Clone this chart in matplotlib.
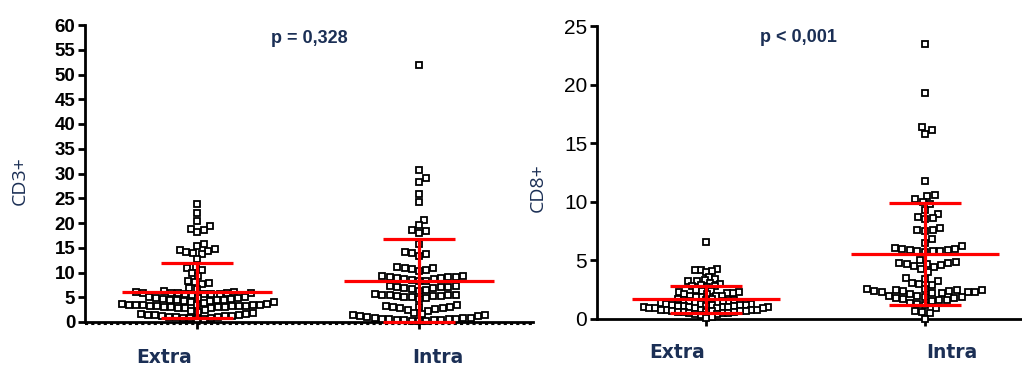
import numpy as np
import matplotlib
matplotlib.use("Agg")
import matplotlib.pyplot as plt
from matplotlib.transforms import ScaledTranslation

groups = ["Extra", "Intra"]

# CD3+ values (left panel)
cd3_extra = [23.8, 22.0, 20.5, 19.3, 18.8, 18.2, 18.5, 15.8, 15.3, 14.8, 14.6, 14.4, 14.2, 14.0,
             13.8, 12.8, 11.2, 11.0, 10.5, 10.0, 9.3, 8.2, 8.0, 7.6, 7.8,
             6.8, 6.6, 6.2, 6.0, 6.0, 5.9, 5.9, 5.8, 5.8, 5.8, 5.7, 5.7, 5.6, 5.6, 5.5,
             5.0, 5.0, 4.9, 4.8, 4.8, 4.7, 4.6, 4.5, 4.5, 4.4, 4.4, 4.3, 4.2, 4.0, 4.0, 3.9,
             3.6, 3.6, 3.5, 3.5, 3.5, 3.4, 3.4, 3.4, 3.3, 3.3, 3.3, 3.2, 3.2, 3.1, 3.1, 3.0,
             3.0, 2.9, 2.8, 2.8, 2.5, 2.3, 2.0, 1.8, 1.6, 1.6, 1.5, 1.5, 1.4, 1.3, 1.2, 1.2,
             1.1, 1.0, 1.0, 0.9, 0.8, 0.8, 0.7, 0.6]
cd3_intra = [52.0, 30.8, 29.0, 28.3, 25.8, 24.2, 20.6, 19.5, 18.6, 18.3, 18.0, 15.8, 14.2, 14.0,
             13.8, 13.3, 11.2, 11.0, 10.9, 10.8, 10.6, 10.3,
             9.3, 9.2, 9.1, 9.0, 9.0, 8.9, 8.8, 8.7, 8.6, 8.5, 8.3, 8.2,
             7.3, 7.2, 7.1, 7.0, 7.0, 6.9, 6.8, 6.6, 6.5, 6.3,
             5.6, 5.5, 5.5, 5.4, 5.4, 5.3, 5.3, 5.2, 5.1, 5.0, 4.8, 4.6,
             3.4, 3.2, 3.1, 3.0, 3.0, 2.9, 2.8, 2.6, 2.5, 2.3,
             1.8, 1.6, 1.5, 1.4, 1.3, 1.2,
             1.0, 0.9, 0.8, 0.8, 0.7, 0.7, 0.6, 0.6, 0.5, 0.5, 0.4, 0.4, 0.3, 0.3, 0.2]
cd3_center = [6.1, 8.3]
cd3_low = [0.75, 0.0]
cd3_high = [12.0, 16.8]

# CD8+ values (right panel)
cd8_extra = [6.6, 4.3, 4.2, 4.2, 4.1, 4.0, 3.6, 3.4, 3.3, 3.2, 3.2, 3.1, 3.0, 2.9, 2.8, 2.8, 2.7,
             2.5, 2.4, 2.4, 2.3, 2.3, 2.2, 2.2, 2.1, 2.1, 2.0, 2.0, 2.0, 1.9, 1.9,
             1.7, 1.7, 1.6, 1.6, 1.6, 1.5, 1.5, 1.5, 1.4, 1.4, 1.4, 1.3, 1.3, 1.3, 1.2, 1.2,
             1.2, 1.2, 1.1, 1.1, 1.1, 1.1, 1.0, 1.0, 1.0, 1.0, 1.0,
             0.9, 0.9, 0.9, 0.9, 0.9, 0.8, 0.8, 0.8, 0.8, 0.8, 0.7, 0.7, 0.7, 0.7,
             0.6, 0.6, 0.6, 0.6, 0.5, 0.5, 0.5, 0.4, 0.4, 0.3, 0.2, 0.1]
cd8_intra = [23.5, 19.3, 16.4, 16.1, 15.8, 11.8, 10.6, 10.5, 10.2, 10.0, 9.8, 9.3, 9.0, 8.7,
             8.6, 8.5, 7.6, 7.6, 7.5, 7.8, 6.8, 6.5,
             6.2, 6.1, 6.0, 6.0, 5.9, 5.9, 5.8, 5.8, 5.8, 5.7,
             5.0, 4.9, 4.8, 4.8, 4.7, 4.7, 4.6, 4.5, 4.4, 4.3, 4.0,
             3.5, 3.4, 3.2, 3.1, 3.0, 2.9,
             2.6, 2.6, 2.5, 2.5, 2.5, 2.4, 2.4, 2.4, 2.3, 2.3, 2.3, 2.2, 2.2,
             2.1, 2.0, 2.0, 1.9, 1.9, 1.8, 1.8, 1.7, 1.6, 1.6, 1.5, 1.4, 1.3, 1.2,
             0.9, 0.7, 0.6, 0.5, 0.0]
cd8_center = [1.68, 5.52]
cd8_low = [0.49, 1.19]
cd8_high = [2.82, 9.92]

navy = "#1b2f55"
num_font = ["Liberation Sans", "DejaVu Sans"]


def swarm_x(ax, xc, vals, d):
    # simple beeswarm in display pixels
    pts = ax.transData.transform(np.column_stack([np.full(len(vals), xc), vals]))
    ys = pts[:, 1]
    x0 = pts[0, 0]
    placed = []
    out = np.zeros(len(vals))
    for i in np.argsort(ys):
        y = ys[i]
        cands = [0.0]
        for px, py in placed:
            dy = y - py
            if abs(dy) < d:
                dx = np.sqrt(d * d - dy * dy)
                cands += [px + dx, px - dx]
        cands.sort(key=abs)
        for c in cands:
            if all((c - px) ** 2 + (y - py) ** 2 >= d * d - 1e-6 for px, py in placed):
                break
        placed.append((c, y))
        out[i] = x0 + c
    back = ax.transData.inverted().transform(np.column_stack([out, ys]))
    return back[:, 0]


def panel(ax, data, center, low, high, lims, yticks, ylabel, ptext, sizes, dists,
          label_shift, ylab_xy, ptext_xy, tick_fs, tick_bold, xpad):
    ax.set_xlim(*lims[0])
    ax.set_ylim(*lims[1])
    xs = [1, 2]
    for x, vals, ms, d in zip(xs, data, sizes, dists):
        sx = swarm_x(ax, x, vals, d)
        ax.plot(sx, vals, "s", ms=ms, mfc="white", mec="black", mew=1.3,
                clip_on=False, zorder=3)
    err = [np.array(center) - np.array(low), np.array(high) - np.array(center)]
    ax.errorbar(xs, center, yerr=err, fmt="none", ecolor="red", elinewidth=2.3,
                capsize=26, capthick=2.3, zorder=4, clip_on=False)
    ax.hlines(center, np.array(xs) - 0.336, np.array(xs) + 0.336, color="red",
              lw=2.3, zorder=4)

    for s in ["top", "right"]:
        ax.spines[s].set_visible(False)
    ax.spines["left"].set_linewidth(2)
    ax.spines["bottom"].set_linewidth(2)
    ax.set_yticks(yticks)
    ax.set_yticklabels([str(t) for t in yticks], fontsize=tick_fs,
                       fontweight="bold" if tick_bold else "normal", family=num_font)
    ax.tick_params(axis="y", length=5, width=2, pad=2)
    ax.set_xticks(xs)
    ax.set_xticklabels(groups, fontsize=13.5, fontweight="bold", color=navy,
                       family="DejaVu Sans")
    ax.tick_params(axis="x", length=5, width=2, pad=xpad)
    for lab, sh in zip(ax.get_xticklabels(), label_shift):
        lab.set_transform(lab.get_transform() + ScaledTranslation(sh / 100, 0, ax.figure.dpi_scale_trans))

    ax.set_ylabel(ylabel, fontsize=14, color=navy, family="Open Sans")
    ax.yaxis.set_label_coords(*ylab_xy)
    ax.text(ptext_xy[0], ptext_xy[1], ptext, transform=ax.transAxes, ha="center",
            va="center", fontsize=13, fontweight="bold", color=navy, family=num_font)


fig = plt.figure(figsize=(10.22, 3.67), dpi=100)
ax1 = fig.add_axes([85 / 1022, 45 / 367, 448 / 1022, 297 / 367])
ax2 = fig.add_axes([597 / 1022, 48 / 367, 425 / 1022, 293 / 367])

panel(ax1, [cd3_extra, cd3_intra], cd3_center, cd3_low, cd3_high,
      ((1 - 112 / 222, 2 + 114 / 222), (0, 60)), list(range(0, 61, 5)), "CD3+",
      "p = 0,328", [4.4, 4.6], [7.0, 7.4], [-33, 19], (-0.125, 0.475), (0.5, 0.956), 13.5, True, 14)
ax1.axhline(-0.5, ls=(0, (1.5, 1.5)), lw=1.5, color="black", clip_on=False)

panel(ax2, [cd8_extra, cd8_intra], cd8_center, cd8_low, cd8_high,
      ((1 - 109 / 219, 2 + 97 / 219), (0, 25)), list(range(0, 26, 5)), "CD8+",
      "p < 0,001", [4.0, 5.0], [5.8, 7.6], [-29, 27], (-0.118, 0.447), (0.473, 0.962), 15, False, 12)

fig.savefig("out.png", dpi=100)
